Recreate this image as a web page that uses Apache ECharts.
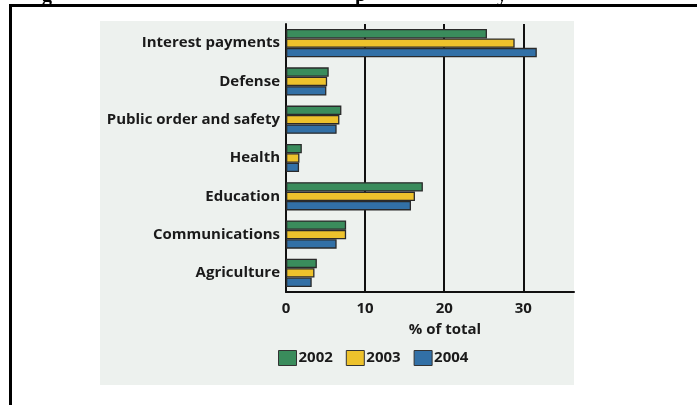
<!DOCTYPE html>
<html><head><meta charset="utf-8">
<script src="https://cdn.jsdelivr.net/npm/echarts@6/dist/echarts.min.js"></script>
<style>html,body{margin:0;padding:0;background:#fff}#c{width:697px;height:405px}</style>
</head><body><div id="c"></div>
<script>
const categories = ['Interest payments','Defense','Public order and safety','Health','Education','Communications','Agriculture'];
const years = ['2002','2003','2004'];
const v2002 = [25.4, 5.4, 7.0, 2.0, 17.3, 7.6, 3.9];
const v2003 = [28.9, 5.2, 6.75, 1.7, 16.3, 7.6, 3.6];
const v2004 = [31.7, 5.1, 6.4, 1.65, 15.8, 6.4, 3.25];
const xTicks = [0, 10, 20, 30];
const colors = ['#3a8c5c', '#edc22c', '#3270a6'];
const font = '"Open Sans", sans-serif';

const chart = echarts.init(document.getElementById('c'), null, {renderer: 'canvas'});
const values = [v2002, v2003, v2004];
chart.setOption({
  animation: false,
  backgroundColor: '#fff',
  graphic: [
    {type: 'rect', shape: {x: 100, y: 21, width: 474, height: 364}, style: {fill: '#edf1ee'}, z: -10},
    {type: 'rect', shape: {x: 9, y: 4, width: 688, height: 3}, style: {fill: '#000'}},
    {type: 'rect', shape: {x: 9, y: 4, width: 3, height: 401}, style: {fill: '#000'}},
    {type: 'text', x: 42, y: -14, style: {text: 'g', font: 'bold 20px "Liberation Serif"', fill: '#000'}},
    {type: 'text', x: 355, y: -14, style: {text: 'p', font: 'bold 20px "Liberation Serif"', fill: '#000'}},
    {type: 'text', x: 497, y: -14, style: {text: 'y', font: 'bold 20px "Liberation Serif"', fill: '#000'}},
    {type: 'text', x: 445, y: 330, style: {text: '% of total', font: 'bold 15px ' + font, fill: '#1a1a1a', align: 'center', verticalAlign: 'middle'}}
  ],
  legend: {
    data: years, left: 278, top: 350, padding: 0, itemWidth: 18, itemHeight: 15, itemGap: 13,
    icon: 'rect',
    itemStyle: {borderColor: '#333', borderWidth: 1},
    textStyle: {fontFamily: font, fontWeight: 'bold', fontSize: 15, color: '#1a1a1a', padding: [0, 0, 0, -3]}
  },
  grid: {left: 286, right: 123, top: 24, bottom: 113, containLabel: false},
  xAxis: {
    type: 'value', min: 0, max: 36.4, interval: 10,
    axisLine: {show: true, onZero: false, lineStyle: {color: '#111', width: 2}},
    axisTick: {show: false},
    axisLabel: {showMaxLabel: false, color: '#1a1a1a', fontFamily: font, fontWeight: 'bold', fontSize: 15, margin: 9,
      formatter: v => xTicks.includes(v) ? String(v) : ''},
    splitLine: {show: true, showMinLine: false, showMaxLine: false, lineStyle: {color: '#111', width: 2}}
  },
  yAxis: {
    type: 'category', data: categories, inverse: true,
    axisLine: {show: true, lineStyle: {color: '#111', width: 2}},
    axisTick: {show: false},
    axisLabel: {color: '#1a1a1a', fontFamily: font, fontWeight: 'bold', fontSize: 15, margin: 6}
  },
  series: years.map((y, i) => ({
    name: y, type: 'bar', data: values[i], barWidth: 9.4, barGap: '0%',
    itemStyle: {color: colors[i], borderColor: '#2a2a2a', borderWidth: 1.3}
  }))
});
</script></body></html>
